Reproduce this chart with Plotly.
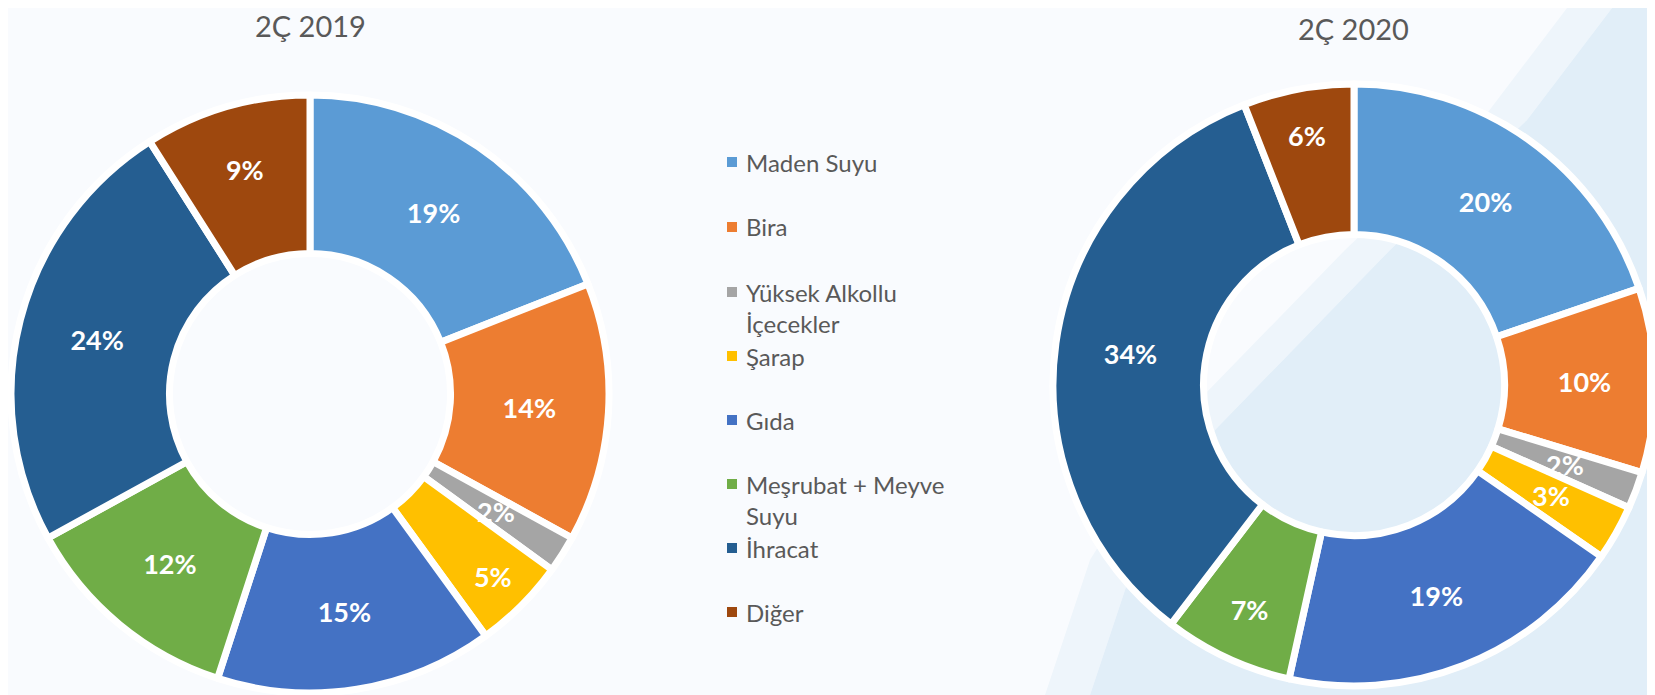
import math
import plotly.graph_objects as go

# page is rendered with an 8px body margin; work in page pixels and convert
OFF = 8
PW, PH = 1655, 695
W, H = PW - OFF, PH - OFF

labels = ["Maden Suyu", "Bira", "Yüksek Alkollu İçecekler", "Şarap", "Gıda",
          "Meşrubat + Meyve Suyu", "İhracat", "Diğer"]
legend_text = ["Maden Suyu", "Bira", "Yüksek Alkollu<br>İçecekler", "Şarap", "Gıda",
               "Meşrubat + Meyve<br>Suyu", "İhracat", "Diğer"]
colors = ["#5B9BD5", "#ED7D31", "#A5A5A5", "#FFC000", "#4472C4",
          "#70AD47", "#255E91", "#9E480E"]
values_2019 = [19, 14, 2, 5, 15, 12, 24, 9]
values_2020 = [20, 10, 2, 3, 19, 7, 34, 6]
titles = ["2Ç 2019", "2Ç 2020"]

FONT = "Lato"
TXT = "#595959"
LBL_SIZE = 27


def px_x(p):
    return (p - OFF) / W


def px_y(p):
    return 1 - (p - OFF) / H


def path_from(points, close=True):
    s = " ".join(("M" if i == 0 else "L") + f" {px_x(x)} {px_y(y)}" for i, (x, y) in enumerate(points))
    return s + (" Z" if close else "")


fig = go.Figure()
annotations = []
shapes = []

# donut geometry in page pixels: (centre x, centre y, radius, hole)
donuts = [
    (values_2019, titles[0], 310, 394, 299, 0.47),
    (values_2020, titles[1], 1354, 385, 301, 0.50),
]

for vals, name, cx, cy, R, hole in donuts:
    small = [v < 4 for v in vals]
    fig.add_trace(go.Pie(
        labels=labels, values=vals, name=name, hole=hole,
        sort=False, direction="clockwise", rotation=0,
        domain=dict(x=[px_x(cx - R), px_x(cx + R)], y=[px_y(cy + R), px_y(cy - R)]),
        marker=dict(colors=colors, line=dict(color="white", width=7)),
        texttemplate="%{value}%",
        textposition=["none" if s else "inside" for s in small],
        insidetextorientation="horizontal",
        textfont=dict(color="white", size=LBL_SIZE, family=FONT, weight="bold"),
        showlegend=False, hoverinfo="label+value",
    ))
    # labels of tiny slices, placed in the middle of the ring like the original
    total = sum(vals)
    cum = 0
    rm = R * (1 + hole) / 2
    for v, s in zip(vals, small):
        if s:
            th = 2 * math.pi * (cum + v / 2) / total
            annotations.append(dict(
                text=f"{v}%", x=px_x(cx + rm * math.sin(th)), y=px_y(cy - rm * math.cos(th)),
                xref="paper", yref="paper", showarrow=False,
                xanchor="center", yanchor="middle",
                font=dict(size=LBL_SIZE, color="white", family=FONT, weight="bold")))
        cum += v

# background light-blue swoosh on the right
edge = [(1612, OFF), (1527, 120), (1390, 250), (1215, 430), (1135, 560), (1090, PH)]
band = [(x - 45, y) for x, y in edge]
shapes.append(dict(type="path", xref="paper", yref="paper", layer="below",
                   path=path_from(band + edge[::-1]),
                   fillcolor="#EEF5FB", line=dict(width=0)))
shapes.append(dict(type="path", xref="paper", yref="paper", layer="below",
                   path=path_from(edge + [(PW, PH), (PW, OFF)]),
                   fillcolor="#E1EEF8", line=dict(width=0)))

# titles
annotations.append(dict(text=titles[0], x=px_x(310), y=px_y(26), xref="paper", yref="paper",
                        showarrow=False, font=dict(size=29, color=TXT, family=FONT),
                        xanchor="center", yanchor="middle"))
annotations.append(dict(text=titles[1], x=px_x(1353), y=px_y(29), xref="paper", yref="paper",
                        showarrow=False, font=dict(size=29, color=TXT, family=FONT),
                        xanchor="center", yanchor="middle"))

# manual legend
row_y = [162, 227, 292, 356, 420, 484, 548, 612]
for lab, col, y in zip(legend_text, colors, row_y):
    nlines = lab.count("<br>") + 1
    shapes.append(dict(type="rect", xref="paper", yref="paper",
                       x0=px_x(727), x1=px_x(737), y0=px_y(y + 5), y1=px_y(y - 5),
                       fillcolor=col, line=dict(width=0)))
    annotations.append(dict(text=lab, x=px_x(744), y=px_y(y + (nlines - 1) * 16),
                            xref="paper", yref="paper", showarrow=False, align="left",
                            xanchor="left", yanchor="middle",
                            font=dict(size=24, color=TXT, family=FONT)))

fig.update_layout(
    width=W, height=H,
    margin=dict(l=0, r=0, t=0, b=0),
    paper_bgcolor="#F9FBFE",
    plot_bgcolor="#F9FBFE",
    shapes=shapes,
    annotations=annotations,
    uniformtext=dict(minsize=LBL_SIZE, mode="show"),
)

fig.write_html("out.html")
